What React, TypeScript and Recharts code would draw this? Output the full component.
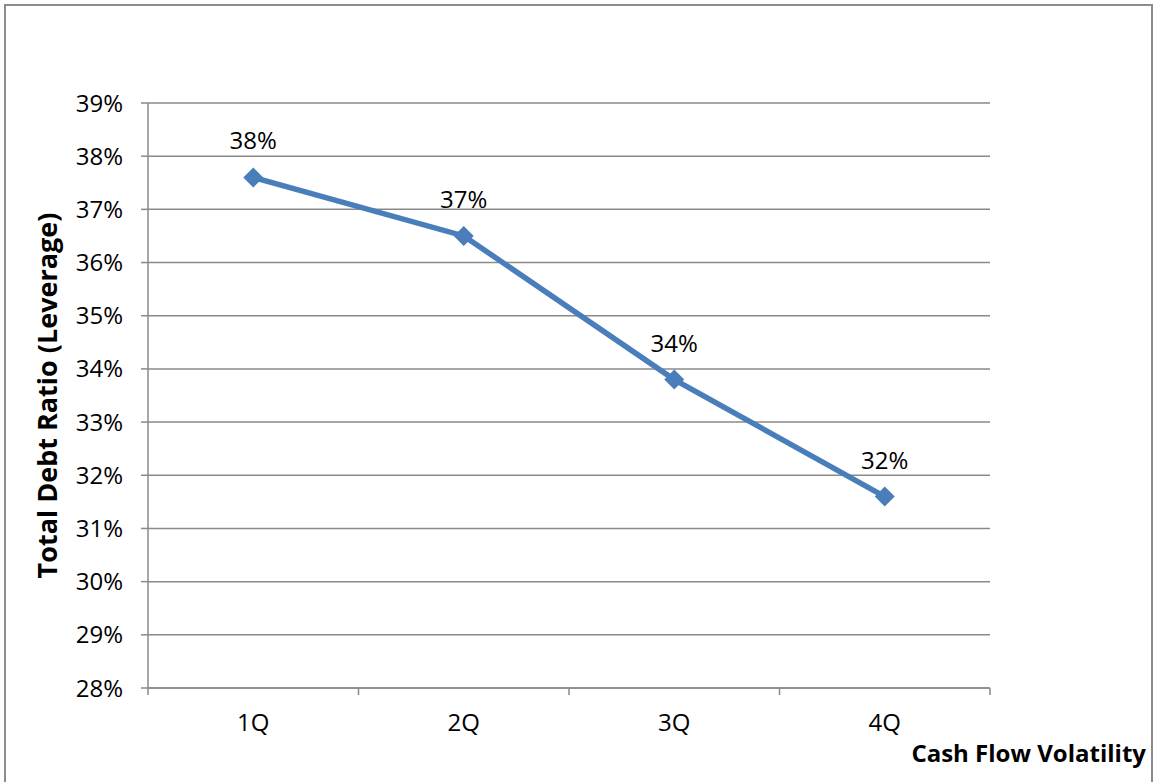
import { CartesianGrid, Label, LabelList, Line, LineChart, XAxis, YAxis } from 'recharts';

const quartiles = ['1Q', '2Q', '3Q', '4Q'];
const debtRatio = [37.6, 36.5, 33.8, 31.6];
const yTicks = [28, 29, 30, 31, 32, 33, 34, 35, 36, 37, 38, 39];
// category boundaries, where the tick marks sit
const bandEdges = [0.5, 1.5, 2.5, 3.5, 4.5];

const data = quartiles.map((q, i) => ({ idx: i + 1, name: q, ratio: debtRatio[i] }));

const FONT = '"Open Sans", "Noto Sans", sans-serif';
const FS = 24;
const GRID = '#8a8a8a';
const BLUE = '#4a7ebb';

// label sits in the middle of the band to the right of each boundary tick
function BandTick(props: any) {
    const { x, y, width, index, payload } = props;
    if (index >= quartiles.length) return null;
    const half = width / quartiles.length / 2;
    return (
        <text x={x + half} y={y + 36} textAnchor="middle" fontSize={FS} fontFamily={FONT} fill="#000">
            {quartiles[Math.round(payload.value + 0.5) - 1]}
        </text>
    );
}

function Diamond(props: any) {
    const { cx, cy } = props;
    const r = 10;
    return <path d={`M${cx},${cy - r}L${cx + r},${cy}L${cx},${cy + r}L${cx - r},${cy}Z`} fill={BLUE} />;
}

function PointLabel(props: any) {
    const { x, y, value } = props;
    return (
        <text x={x} y={y - 28} textAnchor="middle" fontSize={FS} fontFamily={FONT} fill="#000">
            {`${Math.round(value)}%`}
        </text>
    );
}

export default function App() {
    return (
        <div style={{ position: 'absolute', left: 0, top: 0, width: 1157, height: 782, overflow: 'hidden', background: '#fff' }}>
            <div
                style={{
                    position: 'absolute',
                    left: 4,
                    top: 4,
                    width: 1149,
                    height: 820,
                    border: '2px solid #8c8c8c',
                    boxSizing: 'border-box',
                }}
            />
            <LineChart
                width={1157}
                height={782}
                data={data}
                margin={{ top: 103, right: 167, bottom: 0, left: 0 }}
                style={{ position: 'absolute', left: 0, top: 0 }}
            >
                <CartesianGrid vertical={false} stroke={GRID} strokeWidth={1.5} />
                <XAxis
                    dataKey="idx"
                    type="number"
                    domain={[0.5, 4.5]}
                    ticks={bandEdges}
                    height={94}
                    tickSize={7}
                    tickMargin={0}
                    stroke={GRID}
                    strokeWidth={1.5}
                    tick={<BandTick />}
                    interval={0}
                >
                    <Label
                        content={() => (
                            <text x={1146} y={762} textAnchor="end" fontSize={FS} fontWeight="bold" fontFamily={FONT} fill="#000">
                                Cash Flow Volatility
                            </text>
                        )}
                    />
                </XAxis>
                <YAxis
                    type="number"
                    domain={[28, 39]}
                    ticks={yTicks}
                    width={148}
                    interval={0}
                    tickSize={7}
                    tickMargin={18}
                    stroke={GRID}
                    strokeWidth={1.5}
                    tick={{ fontSize: FS, fontFamily: FONT, fill: '#000' }}
                    tickFormatter={(v) => `${v}%`}
                >
                    <Label
                        value="Total Debt Ratio (Leverage)"
                        angle={-90}
                        position="center"
                        dx={-27}
                        style={{ fontSize: 27, fontWeight: 'bold', fontFamily: FONT, fill: '#000' }}
                    />
                </YAxis>
                <Line
                    dataKey="ratio"
                    stroke={BLUE}
                    strokeWidth={5.5}
                    dot={<Diamond />}
                    activeDot={false}
                    isAnimationActive={false}
                >
                    <LabelList dataKey="ratio" content={<PointLabel />} />
                </Line>
            </LineChart>
        </div>
    );
}
